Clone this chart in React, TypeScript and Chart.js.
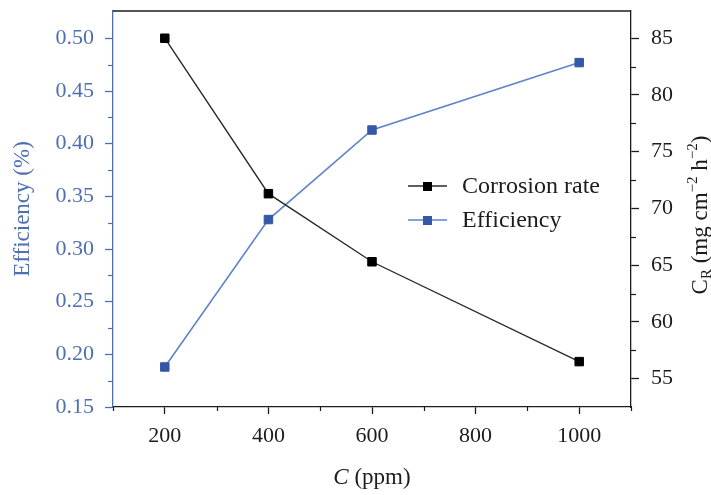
import React, { useEffect, useRef } from "react";
import { Chart, registerables } from "chart.js";

Chart.register(...registerables);

// ---- data ----
const concentrations = [200, 400, 600, 1000];
const corrosionRate = [85.0, 71.3, 65.3, 56.5];
const efficiency = [0.188, 0.328, 0.413, 0.477];

const xTicks = [200, 400, 600, 800, 1000];
const xMinorTicks = [100, 300, 500, 700, 900, 1100];
const effTicks = [0.15, 0.2, 0.25, 0.3, 0.35, 0.4, 0.45, 0.5];
const effMinorTicks = [0.175, 0.225, 0.275, 0.325, 0.375, 0.425, 0.475];
const rateTicks = [55, 60, 65, 70, 75, 80, 85];
const rateMinorTicks = [57.5, 62.5, 67.5, 72.5, 77.5, 82.5];

const seriesLabels = ["Corrosion rate", "Efficiency"];

const FONT = "'Liberation Serif', 'DejaVu Serif', serif";
const BLUE_TEXT = "#4f6eb4";
const BLUE_LINE = "#5f82c8";
const BLUE_MARK = "#3557a7";
const DARK = "#1c1c1c";

const fixTicks = (vals: number[]) => (scale: any) => {
  scale.ticks = vals.map((v) => ({ value: v }));
};

const decorPlugin = {
  id: "decor",
  afterDraw(chart: any) {
    const ctx = chart.ctx as CanvasRenderingContext2D;
    const { left, right, top, bottom } = chart.chartArea;
    const sx = chart.scales.x;
    const sy = chart.scales.y;
    const sy2 = chart.scales.y2;
    ctx.save();
    // top frame line
    ctx.strokeStyle = DARK;
    ctx.lineWidth = 1.3;
    ctx.beginPath();
    ctx.moveTo(left, top);
    ctx.lineTo(right, top);
    ctx.stroke();

    // minor ticks
    ctx.lineWidth = 1.2;
    ctx.strokeStyle = DARK;
    xMinorTicks.forEach((v) => {
      const px = Math.round(sx.getPixelForValue(v)) + 0.5;
      ctx.beginPath();
      ctx.moveTo(px, bottom);
      ctx.lineTo(px, bottom + 4);
      ctx.stroke();
    });
    rateMinorTicks.forEach((v) => {
      const py = Math.round(sy2.getPixelForValue(v)) + 0.5;
      ctx.beginPath();
      ctx.moveTo(right, py);
      ctx.lineTo(right + 5, py);
      ctx.stroke();
    });
    ctx.strokeStyle = BLUE_TEXT;
    effMinorTicks.forEach((v) => {
      const py = Math.round(sy.getPixelForValue(v)) + 0.5;
      ctx.beginPath();
      ctx.moveTo(left, py);
      ctx.lineTo(left - 5, py);
      ctx.stroke();
    });

    // legend
    const ds = chart.data.datasets;
    const lx = left + 295;
    const rows = [top + 175, top + 209];
    ds.forEach((d: any, i: number) => {
      const y = rows[i];
      ctx.strokeStyle = d.borderColor;
      ctx.lineWidth = 1.5;
      ctx.beginPath();
      ctx.moveTo(lx, y);
      ctx.lineTo(lx + 39, y);
      ctx.stroke();
      ctx.fillStyle = d.pointBackgroundColor;
      ctx.fillRect(lx + 15, y - 4, 9, 9);
      ctx.fillStyle = DARK;
      ctx.font = `24px ${FONT}`;
      ctx.textAlign = "left";
      ctx.textBaseline = "middle";
      ctx.fillText(d.label, lx + 54, y + 1);
    });

    // left title
    ctx.save();
    ctx.translate(23, 209);
    ctx.rotate(-Math.PI / 2);
    ctx.fillStyle = BLUE_TEXT;
    ctx.font = `23px ${FONT}`;
    ctx.textAlign = "center";
    ctx.textBaseline = "middle";
    ctx.fillText("Efficiency (%)", 0, 0);
    ctx.restore();

    // right title with sub/superscripts
    ctx.save();
    ctx.translate(700, 215);
    ctx.rotate(-Math.PI / 2);
    ctx.fillStyle = DARK;
    ctx.textBaseline = "alphabetic";
    ctx.textAlign = "left";
    const big = `23px ${FONT}`;
    const small = `15px ${FONT}`;
    const parts: [string, string, number][] = [
      ["C", big, 0],
      ["R", small, 4],
      [" (mg cm", big, 0],
      ["\u22122", small, -10],
      [" h", big, 0],
      ["\u22122", small, -10],
      [")", big, 0],
    ];
    let total = 0;
    parts.forEach(([t, f]) => {
      ctx.font = f;
      total += ctx.measureText(t).width;
    });
    let cx = -total / 2;
    parts.forEach(([t, f, dy]) => {
      ctx.font = f;
      ctx.fillText(t, cx, 7 + dy);
      cx += ctx.measureText(t).width;
    });
    ctx.restore();

    // x title
    ctx.fillStyle = DARK;
    ctx.textBaseline = "middle";
    ctx.font = `italic 23px ${FONT}`;
    const cW = ctx.measureText("C").width;
    ctx.font = `23px ${FONT}`;
    const restW = ctx.measureText(" (ppm)").width;
    const startX = (left + right) / 2 - (cW + restW) / 2;
    ctx.textAlign = "left";
    ctx.font = `italic 23px ${FONT}`;
    ctx.fillText("C", startX, 478);
    ctx.font = `23px ${FONT}`;
    ctx.fillText(" (ppm)", startX + cW, 478);

    ctx.restore();
  },
};

export default function App() {
  const ref = useRef<HTMLCanvasElement | null>(null);
  useEffect(() => {
    if (!ref.current) return;
    const chart = new Chart(ref.current, {
      type: "line",
      data: {
        datasets: [
          {
            label: seriesLabels[0],
            data: concentrations.map((c, i) => ({ x: c, y: corrosionRate[i] })),
            yAxisID: "y2",
            borderColor: "#2a2a2a",
            borderWidth: 1.4,
            pointStyle: "rect",
            pointRadius: 6,
            pointBorderWidth: 1,
            pointBackgroundColor: "#000000",
            pointBorderColor: "#000000",
            tension: 0,
          },
          {
            label: seriesLabels[1],
            data: concentrations.map((c, i) => ({ x: c, y: efficiency[i] })),
            yAxisID: "y",
            borderColor: BLUE_LINE,
            borderWidth: 1.6,
            pointStyle: "rect",
            pointRadius: 6,
            pointBorderWidth: 1,
            pointBackgroundColor: BLUE_MARK,
            pointBorderColor: BLUE_MARK,
            tension: 0,
          },
        ],
      },
      options: {
        animation: false,
        responsive: false,
        layout: { padding: { top: 11, left: 0, right: 0, bottom: 0 } },
        plugins: { legend: { display: false }, tooltip: { enabled: false } },
        scales: {
          x: {
            type: "linear",
            min: 100,
            max: 1100,
            afterBuildTicks: fixTicks(xTicks),
            afterFit: (s: any) => {
              s.height = 88;
              s.paddingLeft = 0;
              s.paddingRight = 0;
            },
            grid: { drawOnChartArea: false, tickLength: 7, tickColor: DARK, tickWidth: 1.3 },
            border: { color: DARK, width: 1.3 },
            ticks: {
              color: DARK,
              padding: 9,
              maxRotation: 0,
              font: { family: FONT, size: 22 },
              callback: (v: any) => String(v),
            },
          },
          y: {
            type: "linear",
            position: "left",
            min: 0.15,
            max: 0.526,
            afterBuildTicks: fixTicks(effTicks),
            afterFit: (s: any) => {
              s.width = 113;
              s.paddingTop = 0;
              s.paddingBottom = 0;
            },
            grid: { drawOnChartArea: false, tickLength: 8, tickColor: BLUE_TEXT, tickWidth: 1.3 },
            border: { color: BLUE_TEXT, width: 1.3 },
            ticks: {
              color: BLUE_TEXT,
              padding: 11,
              font: { family: FONT, size: 22 },
              callback: (v: any) => Number(v).toFixed(2),
            },
          },
          y2: {
            type: "linear",
            position: "right",
            min: 52.5,
            max: 87.4,
            afterBuildTicks: fixTicks(rateTicks),
            afterFit: (s: any) => {
              s.width = 80;
              s.paddingTop = 0;
              s.paddingBottom = 0;
            },
            grid: { drawOnChartArea: false, tickLength: 8, tickColor: DARK, tickWidth: 1.3 },
            border: { color: DARK, width: 1.3 },
            ticks: {
              color: DARK,
              padding: 12,
              font: { family: FONT, size: 22 },
              callback: (v: any) => String(v),
            },
          },
        },
      },
      plugins: [decorPlugin],
    } as any);
    return () => chart.destroy();
  }, []);

  return (
    <div style={{ position: "absolute", left: 0, top: 0, width: 711, height: 495, background: "#fff" }}>
      <canvas ref={ref} width={711} height={495} style={{ display: "block", width: 711, height: 495 }} />
    </div>
  );
}
